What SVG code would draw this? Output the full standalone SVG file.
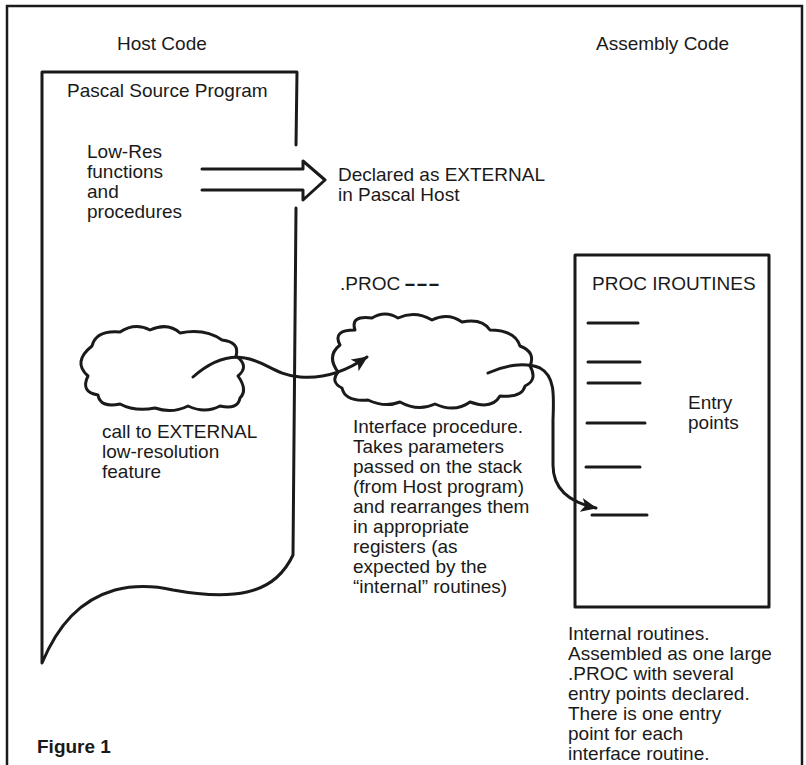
<svg xmlns="http://www.w3.org/2000/svg" width="806" height="765" viewBox="0 0 806 765">
<style>
.t{font-family:"Liberation Sans",Arial,sans-serif;font-size:19px;fill:#1a1a1a}
.b{font-weight:bold}
.ln{fill:none;stroke:#1a1a1a;stroke-width:3;stroke-linecap:round;stroke-linejoin:round}
.fr{fill:none;stroke:#1a1a1a;stroke-width:2.5}
</style>
<defs>
<marker id="ah" markerUnits="userSpaceOnUse" markerWidth="18" markerHeight="14" refX="15" refY="7" orient="auto">
<path d="M0,0 L16,7 L0,14 L4,7 Z" fill="#1a1a1a"/>
</marker>
</defs>
<rect width="806" height="765" fill="#fff"/>
<path class="fr" d="M7,770 V6 H802 V770"/>
<text class="t" x="117" y="50">Host Code</text>
<text class="t" x="596" y="50">Assembly Code</text>

<g id="pascal">
<path class="ln" d="M296,145 L297,72 L42,72 L42,663 C58,625 80,600 115,590 C135,585 155,586 173,590 C195,594 225,597 247,592 C270,587 285,572 293,555 L296,208"/>
<text class="t" x="67" y="97">Pascal Source Program</text>
<text class="t" x="87" y="158">Low-Res</text>
<text class="t" x="87" y="178">functions</text>
<text class="t" x="87" y="198">and</text>
<text class="t" x="87" y="218">procedures</text>
</g>

<g id="declared">
<path class="ln" d="M202,169 H303 L303,161 L325,180 L303,200 L303,190 H202"/>
<text class="t" x="338" y="181">Declared as EXTERNAL</text>
<text class="t" x="338" y="201">in Pascal Host</text>
</g>

<g id="call">
<path class="ln" d="M88,376 Q72,362 92,346 Q96,330 120,332 Q135,322 150,330 Q168,322 180,333 Q205,328 222,340 Q240,342 236,356 Q250,366 238,376 Q248,390 240,398 Q238,410 220,406 Q205,414 188,406 Q172,414 155,408 Q135,412 120,404 Q100,408 98,395 Q80,392 88,376 Z"/>
<text class="t" x="102" y="438">call to EXTERNAL</text>
<text class="t" x="102" y="458">low-resolution</text>
<text class="t" x="102" y="478">feature</text>
</g>

<g id="interface">
<text class="t" x="340" y="290">.PROC</text>
<text class="t b" x="404" y="290" textLength="36" lengthAdjust="spacingAndGlyphs">---</text>
<path class="ln" d="M338,372 Q326,356 340,345 Q332,330 355,330 Q350,315 372,318 Q385,310 398,318 Q415,310 432,320 Q448,312 462,322 Q482,318 490,330 Q515,330 520,346 Q536,352 530,366 Q538,380 525,386 Q522,398 500,396 Q492,410 470,402 Q455,413 435,404 Q418,412 400,402 Q385,408 368,400 Q345,402 342,388 Q330,382 338,372 Z"/>
<text class="t" x="353" y="433">Interface procedure.</text>
<text class="t" x="353" y="453">Takes parameters</text>
<text class="t" x="353" y="473">passed on the stack</text>
<text class="t" x="353" y="493">(from Host program)</text>
<text class="t" x="353" y="513">and rearranges them</text>
<text class="t" x="353" y="533">in appropriate</text>
<text class="t" x="353" y="553">registers (as</text>
<text class="t" x="353" y="573">expected by the</text>
<text class="t" x="353" y="593">“internal” routines)</text>
</g>

<g id="routines">
<rect class="ln" x="575" y="255" width="194" height="352"/>
<text class="t" x="592" y="290">PROC IROUTINES</text>
<path class="ln" d="M588,323 H638 M588,362 H640 M588,383 H640 M587,423 H645 M586,467 H640 M592,515 H647"/>
<text class="t" x="688" y="409">Entry</text>
<text class="t" x="688" y="429">points</text>
<text class="t" x="568" y="640">Internal routines.</text>
<text class="t" x="568" y="660">Assembled as one large</text>
<text class="t" x="568" y="680">.PROC with several</text>
<text class="t" x="568" y="700">entry points declared.</text>
<text class="t" x="568" y="720">There is one entry</text>
<text class="t" x="568" y="740">point for each</text>
<text class="t" x="568" y="760">interface routine.</text>
</g>

<g id="connectors">
<path class="ln" marker-end="url(#ah)" d="M193,377 C210,362 228,355 245,358 C265,361 275,375 300,377 C322,379 345,372 367,357"/>
<path class="ln" marker-end="url(#ah)" d="M488,373 C505,365 525,362 540,368 C555,376 554,395 553,420 L553,465 C553,488 568,502 596,508"/>
</g>

<text class="t b" x="37" y="753">Figure 1</text>
</svg>
